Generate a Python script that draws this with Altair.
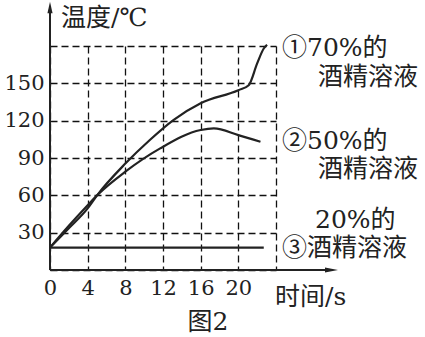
import altair as alt
import pandas as pd

# ---- data ----
t70 = [0, 2, 4, 5, 8, 10.6, 13.1, 16, 20, 21.1, 22, 22.7, 23.05]
v70 = [18, 33.5, 49.5, 60, 85.5, 104.5, 120.5, 134, 144.5, 148.5, 166, 178, 181]
t50 = [0, 2, 4, 5, 8, 11.7, 16, 17.4, 20, 22.35]
v50 = [18, 35.5, 52, 60, 79, 97.7, 112.5, 113.8, 108.4, 103]
t20 = [0, 22.7]
v20 = [18, 18]

x_ticks = [0, 4, 8, 12, 16, 20, 24]
y_ticks = [0, 30, 60, 90, 120, 150, 180]

rows = []
for name, ts, vs in [("70%", t70, v70), ("50%", t50, v50), ("20%", t20, v20)]:
    for t, v in zip(ts, vs):
        rows.append({"series": name, "t": t, "v": v})
df = pd.DataFrame(rows)

W, H = 226, 224
SERIF = "DejaVu Serif, Noto Sans CJK SC"
INK = "#222222"
FS = 25
LFS = 21

xs = alt.Scale(domain=[0, 24], nice=False, zero=False)
ys = alt.Scale(domain=[0, 180], nice=False, zero=False)

lines = alt.Chart(df).mark_line(
    interpolate="monotone", color=INK, strokeWidth=2.2
).encode(
    x=alt.X("t:Q", scale=xs, axis=alt.Axis(
        values=x_ticks, labelExpr="datum.value == 24 ? '' : datum.label",
        grid=True, gridDash=[7, 4], gridColor="#111111", gridWidth=1.3,
        domain=False, ticks=False, tickSize=0, labelFont="DejaVu Serif",
        labelFontSize=LFS, labelColor=INK, labelPadding=7, title=None,
        labelFlush=False)),
    y=alt.Y("v:Q", scale=ys, axis=alt.Axis(
        values=y_ticks,
        labelExpr="(datum.value == 0 || datum.value == 180) ? '' : datum.label",
        grid=True, gridDash=[7, 4], gridColor="#111111", gridWidth=1.3,
        domain=False, ticks=False, tickSize=0, labelFont="DejaVu Serif",
        labelFontSize=LFS, labelColor=INK, labelPadding=6, title=None,
        labelFlush=False)),
    detail="series:N",
)

one = pd.DataFrame({"k": [0]})

y_axis = alt.Chart(one).mark_rule(color=INK, strokeWidth=2).encode(
    x=alt.value(0), y=alt.value(H), y2=alt.value(-38))
x_axis = alt.Chart(one).mark_rule(color=INK, strokeWidth=2).encode(
    x=alt.value(0), x2=alt.value(280), y=alt.value(H))
y_arrow = alt.Chart(one).mark_point(
    shape="M0,-1L0.45,1L-0.45,1Z", filled=True, color=INK, opacity=1, size=130
).encode(x=alt.value(0), y=alt.value(-38.5))
x_arrow = alt.Chart(one).mark_point(
    shape="M1,0L-1,-0.4L-1,0.4Z", filled=True, color=INK, opacity=1, size=170
).encode(x=alt.value(281.5), y=alt.value(H))


def label(txt, x, y, align="left"):
    return alt.Chart(one).mark_text(
        text=txt, font=SERIF, fontSize=FS, color=INK, align=align,
        baseline="middle"
    ).encode(x=alt.value(x), y=alt.value(y))


texts = [
    label("温度/℃", 11, -28),
    label("时间/s", 225, 251),
    label("图2", 158, 276, "center"),
    label("①70%的", 232, 2),
    label("酒精溶液", 268, 31),
    label("②50%的", 232, 95),
    label("酒精溶液", 268, 123),
    label("20%的", 265, 174),
    label("③酒精溶液", 232, 202),
]

chart = alt.layer(lines, y_axis, x_axis, y_arrow, x_arrow, *texts).properties(
    width=W, height=H,
    autosize=alt.AutoSizeParams(type="none"),
    padding={"left": 50, "top": 46, "right": 149, "bottom": 67},
    background="white",
).configure_view(stroke=None)

chart.save("out.html", embed_options={"renderer": "svg", "actions": False})
